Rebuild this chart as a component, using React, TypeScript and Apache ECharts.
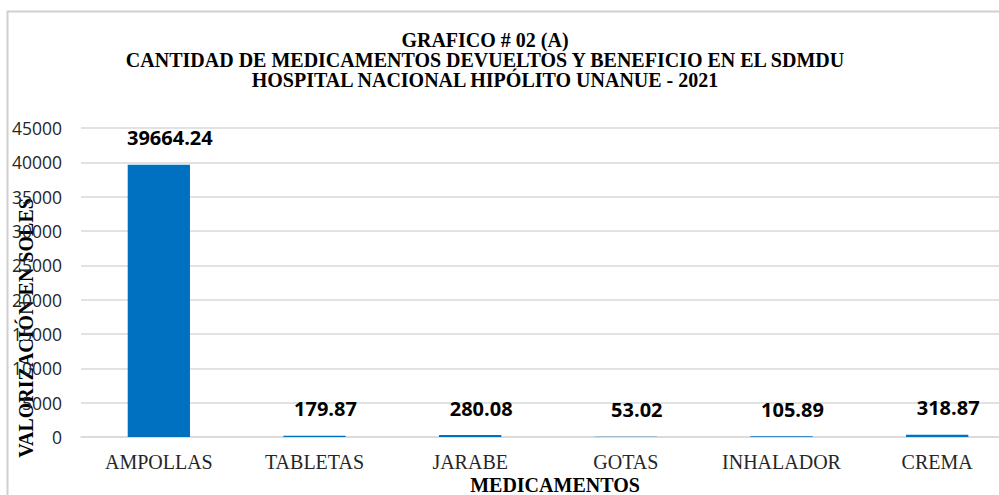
import React, { useEffect, useRef } from "react";
import * as echarts from "echarts";

const titleLines = [
  "GRAFICO # 02 (A)",
  "CANTIDAD DE MEDICAMENTOS DEVUELTOS Y BENEFICIO EN EL SDMDU",
  "HOSPITAL NACIONAL HIPÓLITO UNANUE - 2021",
];
const categories = ["AMPOLLAS", "TABLETAS", "JARABE", "GOTAS", "INHALADOR", "CREMA"];
const values = [39664.24, 179.87, 280.08, 53.02, 105.89, 318.87];
const yTicks = { min: 0, max: 45000, interval: 5000 };
const yAxisName = "VALORIZACIÓN EN SOLES";
const xAxisName = "MEDICAMENTOS";

export default function App() {
  const ref = useRef<HTMLDivElement>(null);
  useEffect(() => {
    document.body.style.margin = "0";
    const chart = echarts.init(ref.current!, null, { renderer: "svg" });
    const serif = "'Liberation Serif', 'Times New Roman', serif";
    const sans = "'Open Sans', 'Noto Sans', sans-serif";
    const titleTexts = titleLines.map((t, i) => ({
      type: "text",
      x: 485,
      y: 40 + i * 20,
      style: {
        text: t,
        font: `bold 20px ${serif}`,
        fill: "#000000",
        align: "center",
        verticalAlign: "middle",
      },
    }));
    chart.setOption({
      animation: false,
      backgroundColor: "#ffffff",
      grid: {
        left: 81,
        top: 128,
        width: 934,
        height: 309,
        containLabel: false,
        outerBoundsMode: "none",
      },
      xAxis: {
        type: "category",
        data: categories,
        axisLine: { show: true, lineStyle: { color: "#D9D9D9", width: 1.5 } },
        axisTick: { show: false },
        axisLabel: {
          color: "#262626",
          fontFamily: serif,
          fontSize: 20,
          margin: 15,
          interval: 0,
        },
      },
      yAxis: {
        type: "value",
        min: yTicks.min,
        max: yTicks.max,
        interval: yTicks.interval,
        axisLine: { show: false },
        axisTick: { show: false },
        splitLine: { lineStyle: { color: "#D9D9D9", width: 1.5 } },
        axisLabel: {
          color: "#262626",
          fontFamily: sans,
          fontSize: 17.5,
          margin: 19,
          formatter: (v: number) => String(v),
        },
      },
      series: [
        {
          type: "bar",
          data: values,
          barWidth: "40%",
          itemStyle: { color: "#0070C0" },
          label: {
            show: true,
            position: "top",
            distance: 17,
            offset: [11, 0],
            color: "#000000",
            fontFamily: sans,
            fontWeight: "bold",
            fontSize: 20,
            formatter: (p: any) => p.value.toFixed(2),
          },
        },
      ],
      graphic: [
        {
          type: "rect",
          silent: true,
          shape: { x: 7.5, y: 11.5, width: 1200, height: 700 },
          style: { fill: "none", stroke: "#D0D0D0", lineWidth: 2 },
        },
        ...titleTexts,
        {
          type: "text",
          x: 26,
          y: 328,
          rotation: Math.PI / 2,
          style: {
            text: yAxisName,
            font: `bold 20px ${serif}`,
            fill: "#000000",
            align: "center",
            verticalAlign: "middle",
          },
        },
        {
          type: "text",
          x: 555,
          y: 485,
          style: {
            text: xAxisName,
            font: `bold 20px ${serif}`,
            fill: "#000000",
            align: "center",
            verticalAlign: "middle",
          },
        },
      ],
    });
    return () => chart.dispose();
  }, []);
  return <div ref={ref} style={{ width: 999, height: 495 }} />;
}
